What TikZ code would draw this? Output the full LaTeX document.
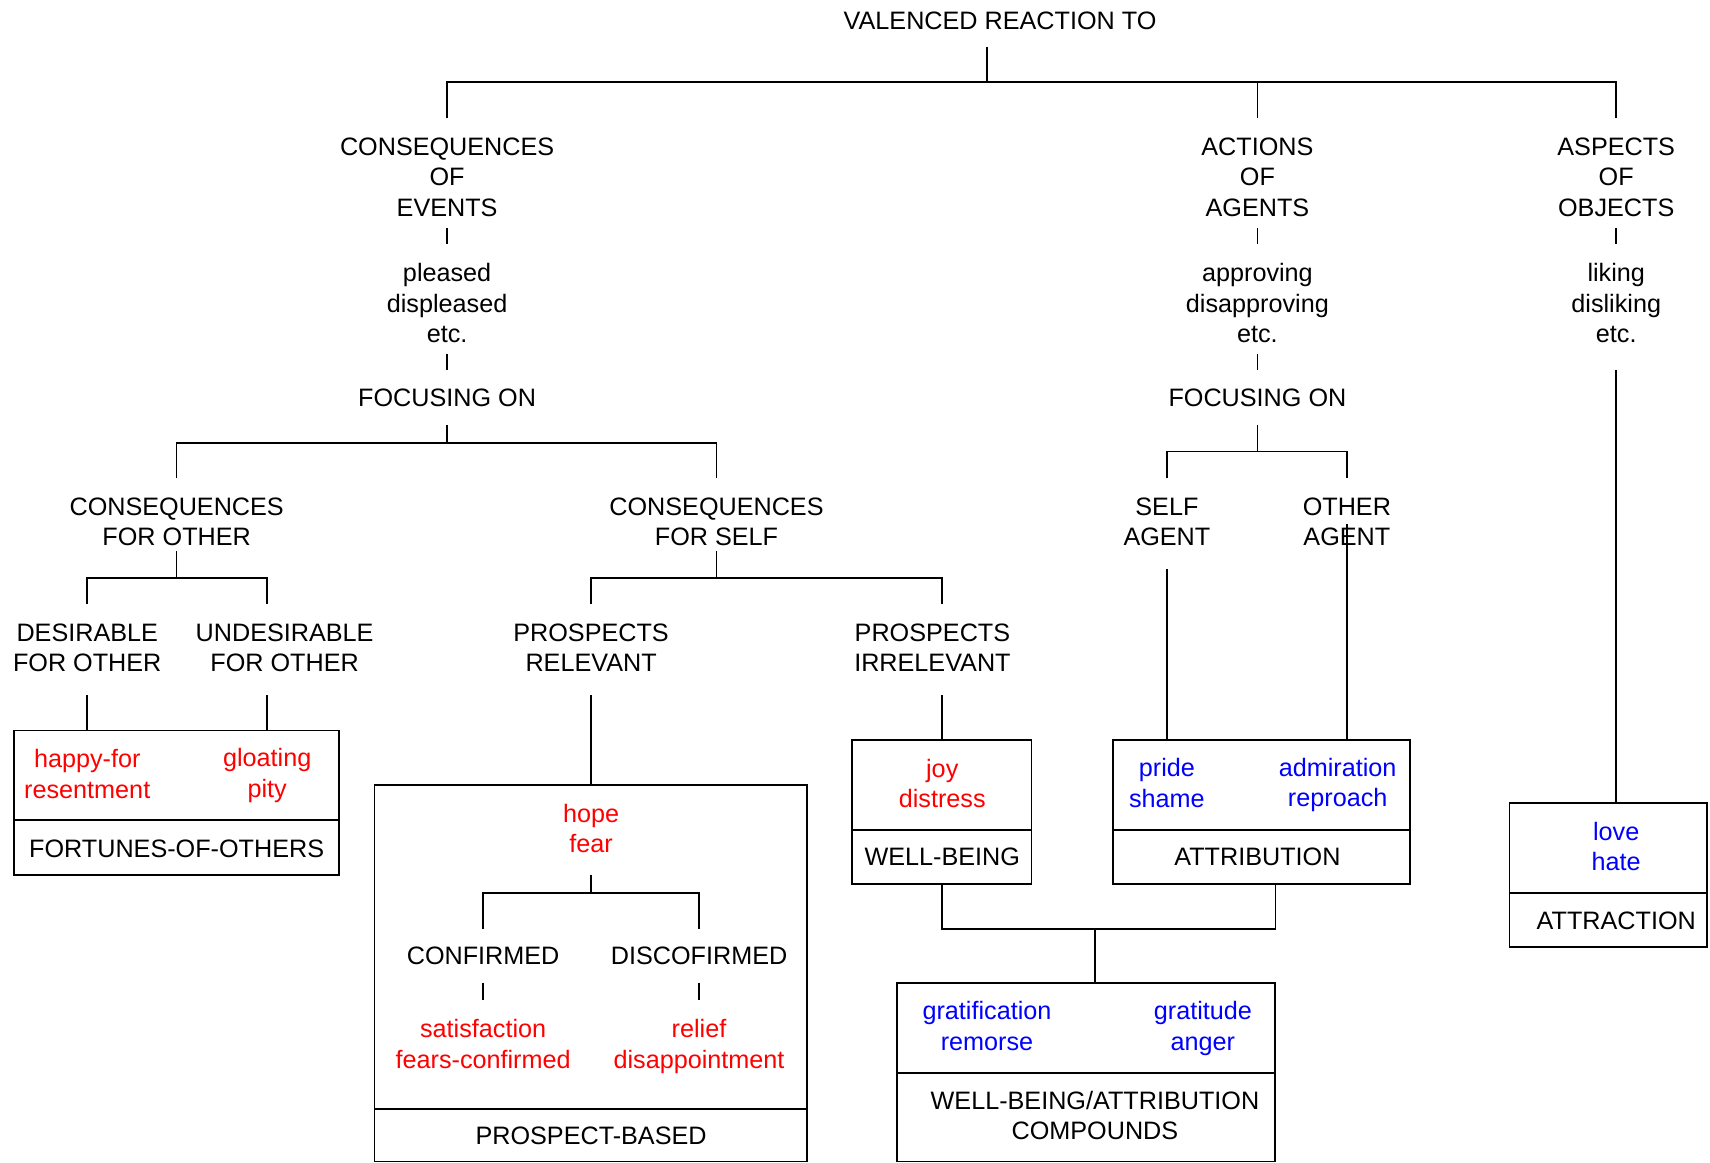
\documentclass[tikz,border=0pt]{standalone}
\usepackage{fontspec}
\setmainfont{Liberation Sans}
\usetikzlibrary{fit}
\definecolor{emored}{RGB}{255,0,0}
\definecolor{emoblue}{RGB}{0,0,255}
\begin{document}
\begin{tikzpicture}[x=0.5453pt,y=-0.5453pt,line width=0.8pt,
  lbl/.style={align=center,inner sep=0pt,font=\fontsize{12.6}{15.27}\selectfont},
  redlbl/.style={lbl,text=emored},
  bluelbl/.style={lbl,text=emoblue},
  part/.style={draw,inner sep=0pt}]
\useasboundingbox (0,0) rectangle (1568,1066);

% ---------- text nodes ----------
\node[lbl] (val) at (917,19) {VALENCED REACTION TO};
\node[lbl] (coe) at (410,162.5) {CONSEQUENCES\\OF\\EVENTS};
\node[lbl] (pld) at (410,278) {pleased\\displeased\\etc.};
\node[lbl] (fo1) at (410,365) {FOCUSING ON};
\node[lbl] (cfo) at (162,478.5) {CONSEQUENCES\\FOR OTHER};
\node[lbl] (cfs) at (657,478.5) {CONSEQUENCES\\FOR SELF};
\node[lbl] (dfo) at (80,594) {DESIRABLE\\FOR OTHER};
\node[lbl] (ufo) at (261,594) {UNDESIRABLE\\FOR OTHER};
\node[lbl] (prr) at (542,594) {PROSPECTS\\RELEVANT};
\node[lbl] (pri) at (855,594) {PROSPECTS\\IRRELEVANT};
\node[lbl] (aoa) at (1153,162.5) {ACTIONS\\OF\\AGENTS};
\node[lbl] (apd) at (1153,278) {approving\\disapproving\\etc.};
\node[lbl] (fo2) at (1153,365) {FOCUSING ON};
\node[lbl] (sag) at (1070,478.5) {SELF\\AGENT};
\node[lbl] (oag) at (1235,478.5) {OTHER\\AGENT};
\node[lbl] (aoo) at (1482,162.5) {ASPECTS\\OF\\OBJECTS};
\node[lbl] (lkd) at (1482,278) {liking\\disliking\\etc.};

% ---------- box corners ----------
\coordinate (fo1c) at (13,670);   \coordinate (fo2c) at (311,752);
\coordinate (fo3c) at (13,752);   \coordinate (fo4c) at (311,802.5);
\coordinate (pb1c) at (343.5,720); \coordinate (pb2c) at (740,1017);
\coordinate (pb3c) at (343.5,1017); \coordinate (pb4c) at (740,1065);
\coordinate (wb1c) at (781,678.5); \coordinate (wb2c) at (946,761);
\coordinate (wb3c) at (781,761);   \coordinate (wb4c) at (946,810.5);
\coordinate (at1c) at (1020.7,678.5); \coordinate (at2c) at (1293,761);
\coordinate (at3c) at (1020.7,761);   \coordinate (at4c) at (1293,810.5);
\coordinate (cm1c) at (822.6,901.5); \coordinate (cm2c) at (1169,984);
\coordinate (cm3c) at (822.6,984);   \coordinate (cm4c) at (1169,1065);
\coordinate (ac1c) at (1384,736.5); \coordinate (ac2c) at (1565.5,819);
\coordinate (ac3c) at (1384,819);   \coordinate (ac4c) at (1565.5,868.6);

% ---------- boxes ----------
\node[part,fit=(fo1c)(fo2c)] (foU) {};
\node[part,fit=(fo3c)(fo4c)] (foL) {};
\node[part,fit=(pb1c)(pb2c)] (pbU) {};
\node[part,fit=(pb3c)(pb4c)] (pbL) {};
\node[part,fit=(wb1c)(wb2c)] (wbU) {};
\node[part,fit=(wb3c)(wb4c)] (wbL) {};
\node[part,fit=(at1c)(at2c)] (atU) {};
\node[part,fit=(at3c)(at4c)] (atL) {};
\node[part,fit=(cm1c)(cm2c)] (cmU) {};
\node[part,fit=(cm3c)(cm4c)] (cmL) {};
\node[part,fit=(ac1c)(ac2c)] (acU) {};
\node[part,fit=(ac3c)(ac4c)] (acL) {};

% ---------- box contents ----------
\node[redlbl] (hf) at (80,709.5) {happy-for\\resentment};
\node[redlbl] (gp) at (245,711) {gloating\\pity};
\node[lbl] (foo) at (162,778) {FORTUNES-OF-OTHERS};
\node[redlbl] (hope) at (542,759.5) {hope\\fear};
\node[lbl] (cnf) at (443,876.7) {CONFIRMED};
\node[lbl] (dcf) at (641,876.7) {DISCOFIRMED};
\node[redlbl] (sat) at (443,957.5) {satisfaction\\fears-confirmed};
\node[redlbl] (rel) at (641,959.5) {relief\\disappointment};
\node[lbl] (pb) at (542,1041.5) {PROSPECT-BASED};
\node[redlbl] (joy) at (864,718.5) {joy\\distress};
\node[lbl] (wb) at (864,786) {WELL-BEING};
\node[bluelbl] (prd) at (1070,718) {pride\\shame};
\node[bluelbl] (adm) at (1226.6,720) {admiration\\reproach};
\node[lbl] (atr) at (1153,786) {ATTRIBUTION};
\node[bluelbl] (grf) at (905,941) {gratification\\remorse};
\node[bluelbl] (grt) at (1103,943) {gratitude\\anger};
\node[lbl] (wba) at (1004,1023) {WELL-BEING/ATTRIBUTION\\COMPOUNDS};
\node[bluelbl] (lov) at (1482,776) {love\\hate};
\node[lbl] (atc) at (1482,844) {ATTRACTION};

% ---------- connectors ----------
\coordinate (j0) at (905,75);
\draw (j0 |- 0,43) -- (j0);
\draw (coe |- 0,108) -- (coe |- j0) -- (aoo |- j0) -- (aoo |- 0,108);
\draw (aoa |- j0) -- (aoa |- 0,108);

\draw (coe |- 0,208.8) -- (pld |- 0,224);
\draw (pld |- 0,324.6) -- (fo1 |- 0,339.7);
\draw (aoa |- 0,208.8) -- (apd |- 0,224);
\draw (apd |- 0,324.6) -- (fo2 |- 0,339.7);
\draw (aoo |- 0,208.8) -- (lkd |- 0,224);
\draw (lkd |- 0,339.7) -- (lkd |- acU.north);

\draw (fo1 |- 0,389.5) -- (fo1 |- 0,406);
\draw (cfo |- 0,438.5) -- (cfo |- 0,406) -- (cfs |- 0,406) -- (cfs |- 0,438.5);
\draw (fo2 |- 0,389.5) -- (fo2 |- 0,414);
\draw (sag |- 0,438.5) -- (sag |- 0,414) -- (oag |- 0,414) -- (oag |- 0,438.5);

\draw (cfo |- 0,505.4) -- (cfo |- 0,530);
\draw (dfo |- 0,554) -- (dfo |- 0,530) -- (gp |- 0,530) -- (gp |- 0,554);
\draw (dfo |- 0,637.5) -- (dfo |- foU.north);
\draw (gp |- 0,637.5) -- (gp |- foU.north);

\draw (cfs |- 0,505.4) -- (cfs |- 0,530);
\draw (prr |- 0,554) -- (prr |- 0,530) -- (joy |- 0,530) -- (joy |- 0,554);
\draw (prr |- 0,637.5) -- (prr |- pbU.north);
\draw (joy |- 0,637.5) -- (joy |- wbU.north);

\draw (hope |- 0,802) -- (hope |- 0,819);
\draw (cnf |- 0,852) -- (cnf |- 0,819) -- (dcf |- 0,819) -- (dcf |- 0,852);
\draw (cnf |- 0,901) -- (sat |- 0,917);
\draw (dcf |- 0,901) -- (rel |- 0,917);

\draw (sag |- 0,522) -- (sag |- atU.north);
\draw (oag |- 0,480.6) -- (oag |- atU.north);

\coordinate (jc) at (1004,852);
\draw (wbL.south) -- (wbL.south |- jc) -- (cmU.east |- jc) -- (cmU.east |- atL.south);
\draw (jc) -- (jc |- cmU.north);
\end{tikzpicture}
\end{document}
